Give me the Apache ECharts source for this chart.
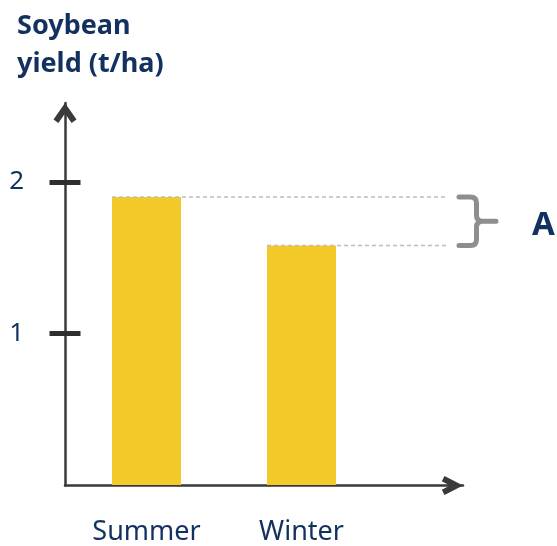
<!DOCTYPE html>
<html>
<head>
<meta charset="utf-8">
<script src="https://cdn.jsdelivr.net/npm/echarts@6/dist/echarts.min.js"></script>
<style>
  html, body { margin: 0; padding: 0; background: #ffffff; }
  #chart { width: 557px; height: 546px; }
</style>
</head>
<body>
<div id="chart"></div>
<script>
// Soybean yield by sowing season
const categories = ['Summer', 'Winter'];
const yields = [1.9, 1.58];
const yTicks = [1, 2];
const gapLabel = 'A';
const titleLines = ['Soybean', 'yield (t/ha)'];

const NAVY = '#12315f';
const AXIS = '#3a3a3a';
const BAR = '#F4C92A';
const FONT = 'Noto Sans';

const Y_MAX = 2.52;
const BAR_W = 69;
const GUIDE_END = 447;   // right end of the dashed guide lines (px)

// chevron arrow heads (drawn pointing up, rotated by the axis)
const arrowX = 'path://M9.5,0 L19,18.5 L13.7,21.2 L9.5,13.1 L5.3,21.2 L0,18.5 Z';
const arrowY = 'path://M11.5,0 L23,16.5 L18.1,19.9 L11.5,10.5 L4.9,19.9 L0,16.5 Z';

const chart = echarts.init(document.getElementById('chart'), null, { renderer: 'canvas' });

const gridPos = { top: 103, bottom: 60.5 };

function renderGuides(params, api) {
  const i = params.dataIndex;
  const p = api.coord([api.value(0), api.value(1)]);
  const children = [{
    type: 'line',
    shape: { x1: p[0] - BAR_W / 2, y1: p[1], x2: GUIDE_END, y2: p[1] },
    style: { stroke: '#bdbdbd', lineWidth: 1.6, lineDash: [4, 3] },
    z2: 5
  }];
  if (i === 0) {
    // brace spanning the gap between the two yields
    const yT = api.coord([0, Math.max(...yields)])[1];
    const yB = api.coord([0, Math.min(...yields)])[1];
    const yM = (yT + yB) / 2;
    const x0 = 459, xs = 476.5, xt = 496, r = 6;
    const d = [
      'M', x0, yT, 'L', xs - r, yT, 'Q', xs, yT, xs, yT + r,
      'L', xs, yM - r, 'Q', xs, yM, xs + r, yM, 'L', xt, yM,
      'M', xs + r, yM, 'Q', xs, yM, xs, yM + r,
      'L', xs, yB - r, 'Q', xs, yB, xs - r, yB, 'L', x0, yB
    ].join(' ');
    children.push({
      type: 'path',
      shape: { pathData: d },
      style: { fill: null, stroke: '#8e8e8e', lineWidth: 5, lineCap: 'round', lineJoin: 'round' }
    });
    children.push({
      type: 'text',
      x: 532, y: yM + 4,
      style: {
        text: gapLabel, fill: NAVY, font: 'bold 33px "' + FONT + '"',
        verticalAlign: 'middle', align: 'left'
      }
    });
  }
  return { type: 'group', children: children };
}

chart.setOption({
  animation: false,
  backgroundColor: '#ffffff',
  title: {
    text: titleLines.join('\n'),
    left: 12, top: 2,
    textStyle: { color: NAVY, fontFamily: FONT, fontWeight: 'bold', fontSize: 27, lineHeight: 38 }
  },
  grid: [
    { left: 65, right: 94, top: gridPos.top, bottom: gridPos.bottom, containLabel: false },
    { left: 69, width: 310, top: gridPos.top, bottom: gridPos.bottom, containLabel: false }
  ],
  xAxis: [
    {
      gridIndex: 0, type: 'value', min: 0, max: 1,
      axisLine: {
        show: true, lineStyle: { color: AXIS, width: 2.5 },
        symbol: ['none', arrowX], symbolSize: [19, 21.2], symbolOffset: [0, -10.6]
      },
      axisTick: { show: false }, axisLabel: { show: false }, splitLine: { show: false }
    },
    {
      gridIndex: 1, type: 'category', data: categories,
      axisLine: { show: false }, axisTick: { show: false }, splitLine: { show: false },
      axisLabel: { color: NAVY, fontFamily: FONT, fontSize: 27, margin: 34 }
    }
  ],
  yAxis: [
    {
      gridIndex: 0, type: 'value', min: 0, max: Y_MAX,
      axisLine: {
        show: true, lineStyle: { color: AXIS, width: 2.5 },
        symbol: ['none', arrowY], symbolSize: [23, 19.9], symbolOffset: [0, -9.95]
      },
      axisTick: { show: false }, splitLine: { show: false },
      axisLabel: { customValues: yTicks, color: NAVY, fontFamily: FONT, fontSize: 26, margin: 41 }
    },
    {
      gridIndex: 0, type: 'value', min: 0, max: Y_MAX, position: 'left', offset: -15.5,
      axisLine: { show: false }, splitLine: { show: false }, axisLabel: { show: false },
      axisTick: { show: true, customValues: yTicks, length: 31, lineStyle: { color: '#2e2e2e', width: 5 } }
    },
    {
      gridIndex: 1, type: 'value', min: 0, max: Y_MAX, show: false
    }
  ],
  series: [
    {
      type: 'bar', xAxisIndex: 1, yAxisIndex: 2,
      data: yields, barWidth: BAR_W,
      itemStyle: { color: BAR }
    },
    {
      type: 'custom', xAxisIndex: 1, yAxisIndex: 2, clip: false, z: 5,
      data: yields.map((v, i) => [i, v]),
      renderItem: renderGuides
    }
  ]
});
</script>
</body>
</html>
